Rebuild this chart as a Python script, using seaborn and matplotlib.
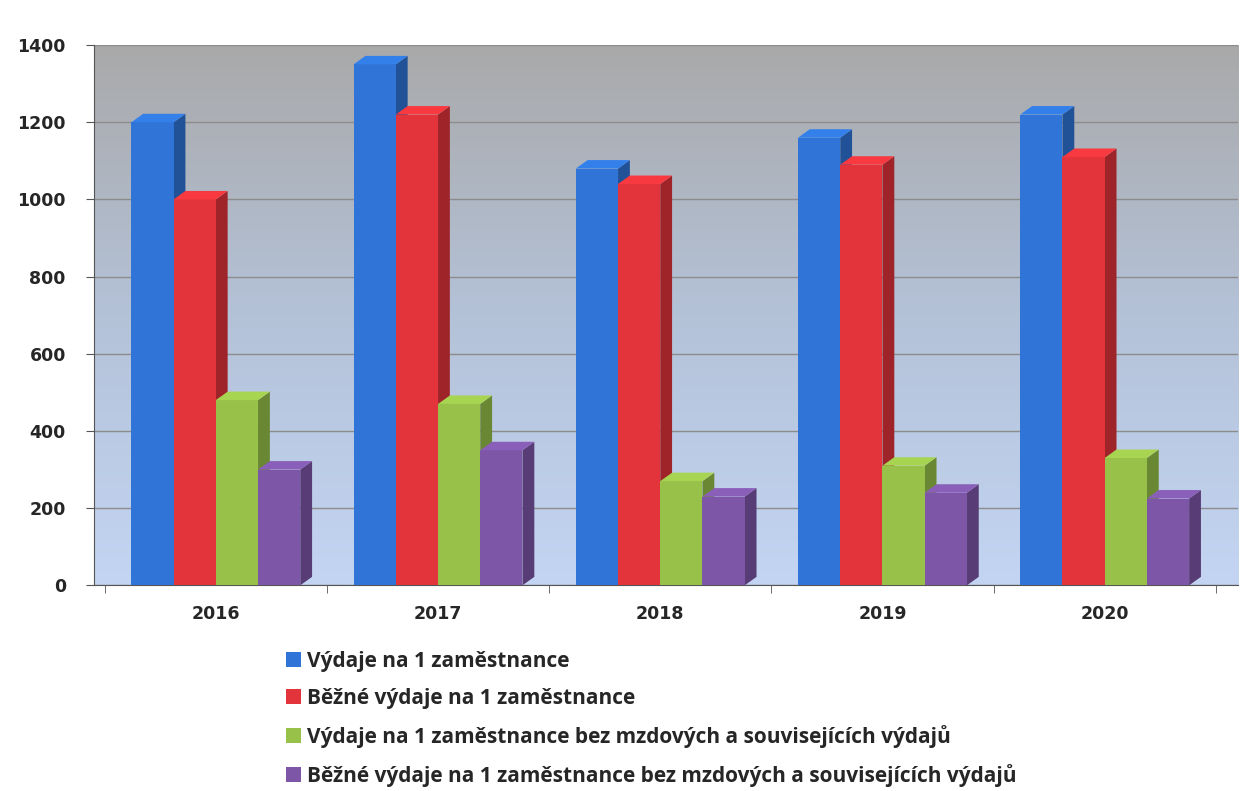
import numpy as np
import pandas as pd
import matplotlib
matplotlib.use("Agg")
import matplotlib.pyplot as plt
import matplotlib.colors as mcolors
from matplotlib.patches import Polygon, Patch
import seaborn as sns

# data
years = ["2016", "2017", "2018", "2019", "2020"]
vydaje = [1200, 1350, 1080, 1160, 1220]
bezne = [1000, 1220, 1040, 1090, 1110]
vydaje_bez = [480, 470, 270, 310, 330]
bezne_bez = [300, 350, 230, 240, 225]

series = [
    "Výdaje na 1 zaměstnance",
    "Běžné výdaje na 1 zaměstnance",
    "Výdaje na 1 zaměstnance bez mzdových a souvisejících výdajů",
    "Běžné výdaje na 1 zaměstnance bez mzdových a souvisejících výdajů",
]
colors = ["#2f74d6", "#e2343a", "#98c14a", "#7d56a8"]

df = pd.DataFrame({"rok": years, series[0]: vydaje, series[1]: bezne,
                   series[2]: vydaje_bez, series[3]: bezne_bez})
df = df.melt(id_vars="rok", var_name="serie", value_name="hodnota")

sns.set_style("white")
plt.rcParams["font.family"] = ["DejaVu Sans"]

fig = plt.figure(figsize=(12.48, 7.91), dpi=100)
ax = fig.add_axes([0.075, 0.26, 0.917, 0.683])

# background wall: grey at top fading to light blue
grad = np.linspace(0, 1, 256).reshape(-1, 1)
cmap = mcolors.LinearSegmentedColormap.from_list("wall", ["#a9a9a9", "#b4c2d8", "#c3d5f3"])
ax.imshow(grad, aspect="auto", cmap=cmap, extent=[0, 1, 0, 1], transform=ax.transAxes,
          zorder=0, origin="upper")

sns.barplot(data=df, x="rok", y="hodnota", hue="serie", palette=colors,
            width=0.76, saturation=1, linewidth=0, ax=ax, zorder=3, legend=False)

# fake 3D: top and side faces built from the drawn bars
dy = 22
for patch in list(ax.patches):
    x0, w, h = patch.get_x(), patch.get_width(), patch.get_height()
    fc = np.array(patch.get_facecolor()[:3])
    dx = w * 0.28
    top = Polygon([(x0, h), (x0 + dx, h + dy), (x0 + w + dx, h + dy), (x0 + w, h)],
                  closed=True, facecolor=np.clip(fc * 1.1, 0, 1), edgecolor="none", zorder=3)
    side = Polygon([(x0 + w, 0), (x0 + w + dx, dy), (x0 + w + dx, h + dy), (x0 + w, h)],
                   closed=True, facecolor=fc * 0.7, edgecolor="none", zorder=2.9)
    ax.add_patch(side)
    ax.add_patch(top)

ax.set_ylim(0, 1400)
ax.set_xlim(-0.55, 4.6)
ax.set_yticks(range(0, 1401, 200))
ax.yaxis.grid(True, color="#8c8c8c", linewidth=1, zorder=1)
ax.set_axisbelow(True)
ax.set_xlabel("")
ax.set_ylabel("")
for s in ["top", "right"]:
    ax.spines[s].set_visible(False)
ax.spines["left"].set_color("#555555")
ax.spines["bottom"].set_color("#555555")
ax.tick_params(axis="y", left=True, length=6, color="#555555", labelsize=12.5, pad=14)
ax.tick_params(axis="x", bottom=True, length=0, labelsize=12.5, pad=14)
ax.set_xticks(np.arange(-0.5, 4.6, 1), minor=True)
ax.tick_params(axis="x", which="minor", bottom=True, length=6, color="#555555")
for lab in ax.get_xticklabels() + ax.get_yticklabels():
    lab.set_fontweight("bold")

handles = [Patch(facecolor=c, edgecolor="none") for c in colors]
fig.legend(handles, series, loc="lower left", bbox_to_anchor=(0.218, -0.012), frameon=False,
           borderpad=0.15, handlelength=0.75, handleheight=0.75, handletextpad=0.3,
           labelspacing=0.77, prop={"family": "Open Sans", "weight": "bold", "size": 15})

fig.savefig("out.png", dpi=100)
